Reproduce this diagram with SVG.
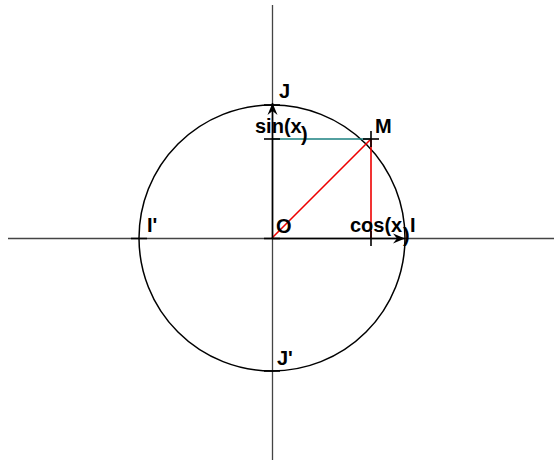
<svg xmlns="http://www.w3.org/2000/svg" width="554" height="463" viewBox="0 0 554 463">
<style>
text{font-family:"Liberation Sans",Arial,sans-serif;font-weight:bold;font-size:20px;fill:#000}
.ax{stroke:#444;stroke-width:1.3;fill:none}
.tk{stroke:#000;stroke-width:1.6}
</style>
<defs>
<marker id="ah" markerWidth="14" markerHeight="12" refX="12" refY="6" orient="auto" markerUnits="userSpaceOnUse">
<path d="M0,1 L12,6 L0,11 L4,6 Z" fill="#000"/>
</marker>
</defs>
<rect width="554" height="463" fill="#fff"/>
<g id="axes">
<line class="ax" x1="8" y1="238.5" x2="554" y2="238.5"/>
<line class="ax" x1="272.5" y1="5" x2="272.5" y2="460" stroke="#000"/>
</g>
<g id="circle"><circle cx="272" cy="238" r="133" fill="none" stroke="#000" stroke-width="1.5"/></g>
<g id="connectors">
<line x1="272" y1="139" x2="371" y2="139" stroke="#1a8080" stroke-width="1.6"/>
<line x1="371" y1="139" x2="371" y2="238" stroke="#e00" stroke-width="1.6"/>
<line x1="272" y1="238" x2="371" y2="139" stroke="#e00" stroke-width="1.6"/>
<line x1="272.5" y1="238" x2="272.5" y2="103" stroke="#000" stroke-width="1.6" marker-end="url(#ah)"/>
<line x1="272" y1="238.5" x2="405" y2="238.5" stroke="#000" stroke-width="1.6" marker-end="url(#ah)"/>
</g>
<g id="ticks">
<line class="tk" x1="264" y1="238.5" x2="280" y2="238.5"/>
<line class="tk" x1="131" y1="238.5" x2="147" y2="238.5"/>
<line class="tk" x1="371" y1="231" x2="371" y2="246"/>
<line class="tk" x1="264" y1="139" x2="280" y2="139"/>
<line class="tk" x1="363" y1="139" x2="379" y2="139"/>
<line class="tk" x1="371" y1="131" x2="371" y2="147"/>
<line class="tk" x1="264" y1="371" x2="280" y2="371"/>
<line class="tk" x1="264" y1="105" x2="280" y2="105"/>
</g>
<g id="node-J"><text x="279" y="98">J</text></g>
<g id="node-sin"><text x="255" y="133">sin(x</text><text x="301" y="141" font-size="18">)</text></g>
<g id="node-M"><text x="375" y="133">M</text></g>
<g id="node-Iprime"><text x="147" y="232">I'</text></g>
<g id="node-O"><text x="276" y="233">O</text></g>
<g id="node-cos"><text x="350" y="232">cos(x</text><text x="403" y="242" font-size="18">)</text></g>
<g id="node-I"><text x="410" y="232">I</text></g>
<g id="node-Jprime"><text x="277" y="365">J'</text></g>
</svg>
